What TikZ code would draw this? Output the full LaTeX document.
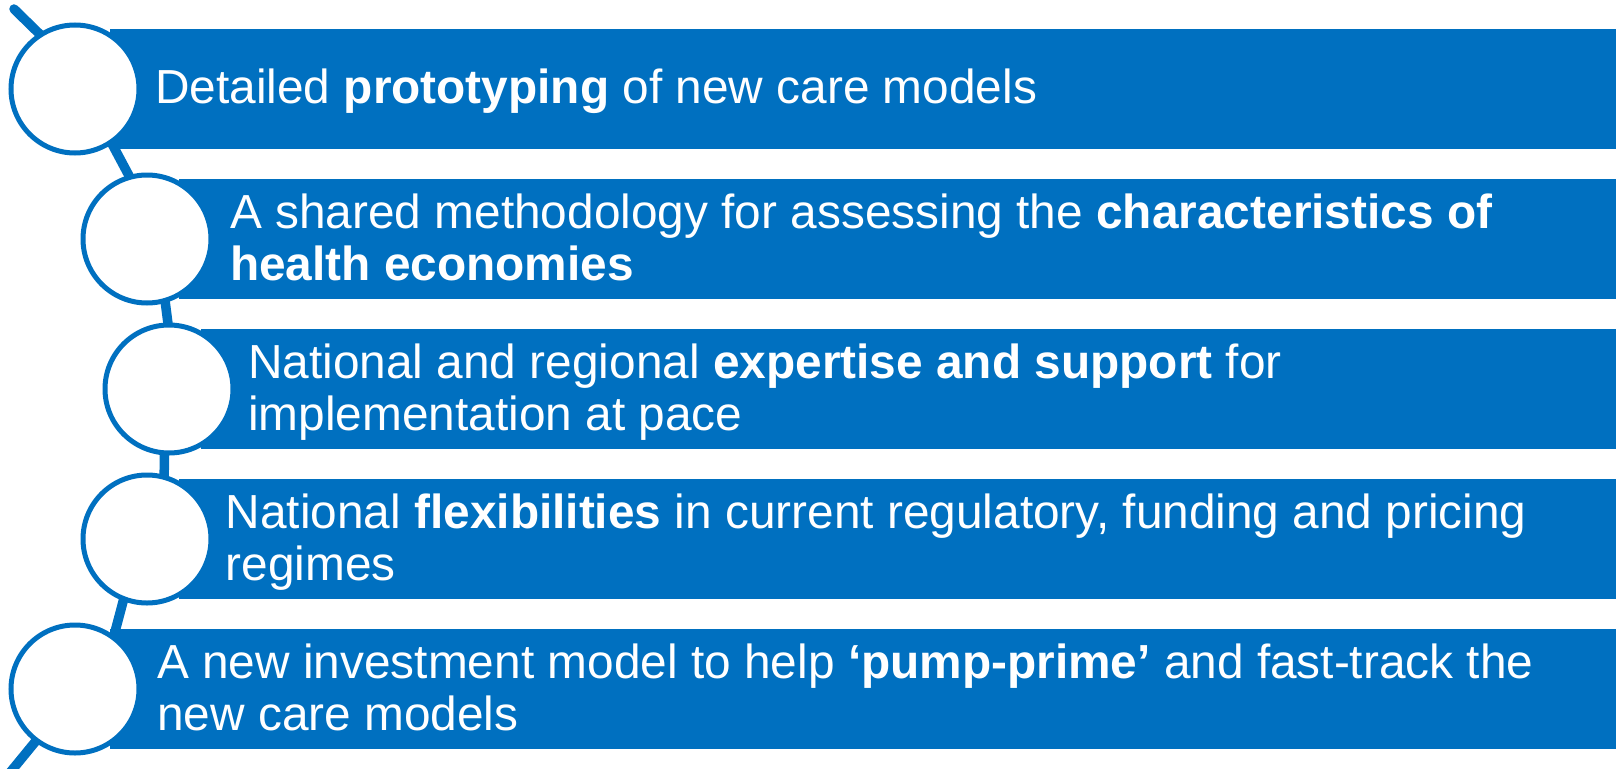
\documentclass[tikz,border=0pt]{standalone}
\usepackage{fontspec}
\setmainfont{Liberation Sans}
\usetikzlibrary{backgrounds}
\definecolor{nhsblue}{HTML}{0070C0}
\begin{document}
\begin{tikzpicture}[x=1pt,y=-1pt,
  bar/.style={fill=nhsblue, draw=none, anchor=north west, inner sep=0pt, outer sep=0pt, minimum height=120pt},
  ring/.style={circle, draw=nhsblue, fill=white, line width=5pt, minimum size=128pt, inner sep=0pt},
  txt/.style={text=white, anchor=base west, inner sep=0pt, align=left, font=\fontsize{47.8}{52}\selectfont},
  link/.style={draw=nhsblue, line width=9.5pt, shorten <=-3pt, shorten >=-3pt}
]
\useasboundingbox (0,0) rectangle (1616,768);
% bars
\node[bar, minimum width=1506pt] (b1) at (110,29) {};
\node[bar, minimum width=1437pt] (b2) at (179,179) {};
\node[bar, minimum width=1415pt] (b3) at (201,329) {};
\node[bar, minimum width=1437pt] (b4) at (179,479) {};
\node[bar, minimum width=1506pt] (b5) at (110,629) {};
% circles
\node[ring] (c1) at (75,89) {};
\node[ring] (c2) at (147,239) {};
\node[ring] (c3) at (169,389) {};
\node[ring] (c4) at (147,539) {};
\node[ring] (c5) at (75,689) {};
% texts (base anchor = baseline of the last line)
\node[txt] (t1) at (155,103) {Detailed \textbf{prototyping} of new care models};
\node[txt] (t2) at (230,280) {A shared methodology for assessing the \textbf{characteristics of}\\\textbf{health economies}};
\node[txt] (t3) at (248,430) {National and regional \textbf{expertise and support} for\\implementation at pace};
\node[txt] (t4) at (225.5,580) {National \textbf{flexibilities} in current regulatory, funding and pricing\\regimes};
\node[txt] (t5) at (157,730) {A new investment model to help \textbf{‘pump-prime’} and fast-track the\\new care models};
% connectors
\begin{scope}[on background layer]
\coordinate (top) at (14,9);
\coordinate (bot) at (8,775);
\draw[link, line cap=round, shorten <=0pt] (top) -- (c1.123);
\draw[link] (c1.-56) -- (c2.106);
\draw[link] (c2.-74) -- (c3.91);
\draw[link] (c3.-94) -- (c4.75);
\draw[link] (c4.-111) -- (c5.54);
\draw[link, shorten >=0pt] (c5.-127) -- (bot);
\end{scope}
\end{tikzpicture}
\end{document}
